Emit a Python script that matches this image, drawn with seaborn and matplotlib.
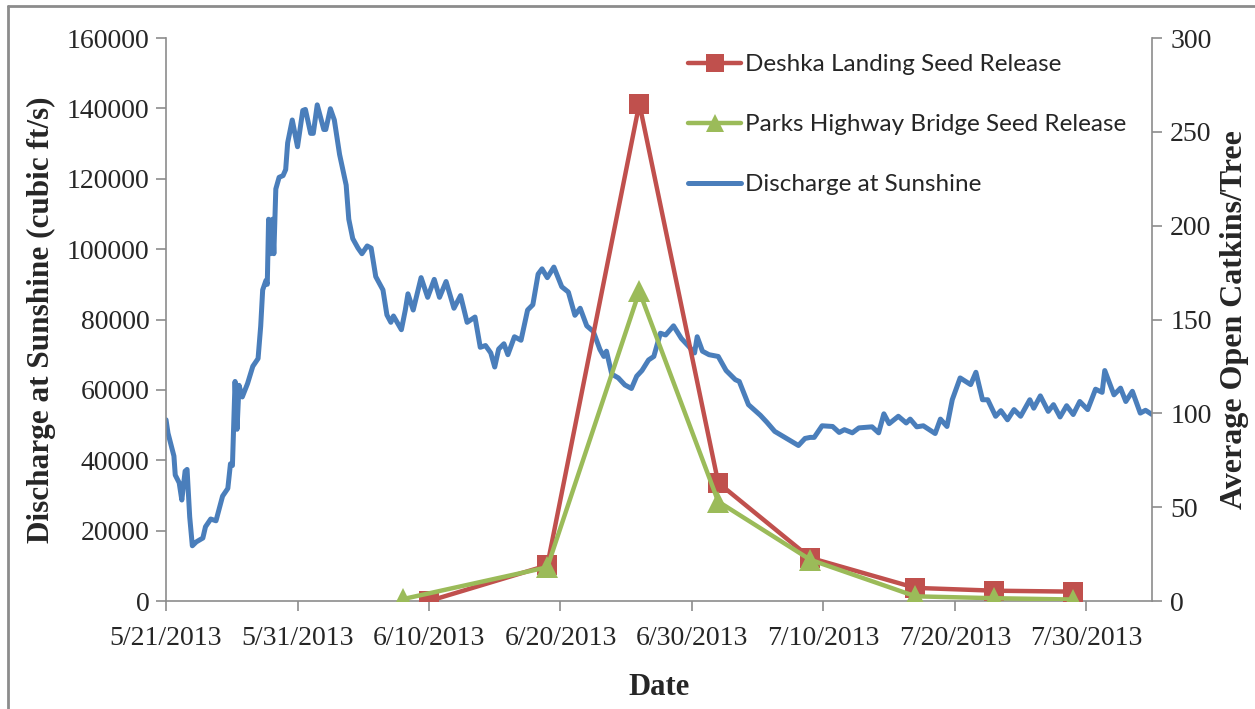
import pandas as pd
import seaborn as sns
import matplotlib.pyplot as plt
import matplotlib.dates as mdates
from matplotlib.lines import Line2D

# discharge at Sunshine (days after 5/21/2013, cubic ft/s)
discharge_day = [
    0.0, 0.15, 0.6, 0.7, 1.0, 1.2, 1.45, 1.6, 1.8, 2.0, 2.3, 2.8, 3.0, 3.4, 3.8,
    4.3, 4.7, 4.9, 5.05, 5.25, 5.4, 5.55, 5.8, 6.2, 6.6, 7.0, 7.2, 7.35, 7.6, 7.7,
    7.8, 7.95, 8.1, 8.2, 8.35, 8.6, 8.9, 9.1, 9.25, 9.6, 10.0, 10.4, 10.6, 11.0,
    11.2, 11.5, 12.0, 12.15, 12.5, 12.8, 13.2, 13.7, 13.9, 14.2, 14.6, 14.9, 15.3,
    15.6, 15.95, 16.5, 16.8, 17.1, 17.3, 17.5, 17.9, 18.2, 18.4, 18.8, 19.4, 19.9,
    20.4, 20.8, 21.3, 21.9, 22.4, 22.9, 23.5, 23.9, 24.3, 24.7, 25.0, 25.3, 25.7,
    26.0, 26.5, 27.0, 27.5, 27.9, 28.3, 28.6, 29.0, 29.5, 30.1, 30.6, 31.1, 31.5,
    32.0, 32.5, 33.0, 33.3, 33.5, 33.9, 34.4, 34.9, 35.4, 35.8, 36.2, 36.7, 37.1,
    37.6, 38.0, 38.6, 39.2, 39.7, 40.2, 40.4, 40.8, 41.3, 42.0, 42.6, 43.3, 43.6,
    44.3, 45.2, 45.7, 46.3, 47.2, 48.1, 48.6, 49.0, 49.3, 49.9, 50.7, 51.2, 51.6,
    52.2, 52.7, 53.7, 54.2, 54.6, 55.0, 55.7, 56.3, 56.6, 57.1, 57.6, 58.5, 58.9,
    59.4, 59.8, 60.4, 61.2, 61.6, 62.1, 62.5, 63.1, 63.5, 64.0, 64.5, 65.0, 65.7,
    66.0, 66.5, 67.1, 67.5, 68.0, 68.5, 69.0, 69.5, 70.1, 70.7, 71.2, 71.4, 72.1,
    72.6, 73.0, 73.5, 74.1, 74.5, 75.0,
]
discharge_cfs = [
    51500, 47700, 41200, 35800, 33600, 28700, 36900, 37400, 23900, 15700, 16800,
    17900, 21100, 23300, 22800, 29800, 32000, 39000, 38500, 62400, 48800, 61300,
    58000, 61800, 66700, 68900, 78100, 88400, 91100, 90000, 108500, 98700, 108500,
    98700, 117100, 120400, 120900, 122600, 130200, 136700, 129100, 139400, 139700,
    132900, 132900, 141000, 134000, 134000, 139900, 136700, 126900, 118200, 108500,
    103000, 100300, 98700, 100900, 100300, 92200, 88400, 81300, 79200, 81000,
    79700, 77100, 82700, 87300, 82700, 91900, 86300, 91400, 86300, 90800, 83200,
    86800, 79200, 80700, 72100, 72600, 70500, 66500, 71600, 73100, 70000, 75100,
    74100, 82700, 84200, 92900, 94400, 91900, 94900, 89300, 87800, 81200, 83200,
    78200, 76600, 71500, 69500, 71000, 64500, 63400, 61400, 60400, 63900, 65500,
    68500, 69500, 76100, 75600, 78200, 74600, 72600, 70500, 75100, 71000, 70000,
    69500, 65500, 62900, 62400, 55800, 52800, 50800, 48200, 46200, 44200, 46200,
    46500, 46500, 49800, 49600, 47900, 48700, 47800, 49200, 49500, 47800, 53200,
    50400, 52500, 50600, 51700, 49500, 49800, 47600, 51700, 49600, 57200, 63400,
    61500, 65000, 57200, 57200, 52500, 54100, 51500, 54400, 52500, 57200, 54800,
    58300, 53900, 55800, 52300, 55500, 53000, 56700, 54400, 60200, 59300, 65500,
    58600, 60500, 56700, 59600, 53400, 54200, 53000,
]

# seed release, average open catkins per tree
deshka_dates = ['2013-06-10', '2013-06-19', '2013-06-26', '2013-07-02',
                '2013-07-09', '2013-07-17', '2013-07-23', '2013-07-29']
deshka_catkins = [0, 19, 265, 63, 23, 7, 5.5, 5]
parks_dates = ['2013-06-08', '2013-06-19', '2013-06-26', '2013-07-02',
               '2013-07-09', '2013-07-17', '2013-07-23', '2013-07-29']
parks_catkins = [1, 18, 165, 53, 22, 2.5, 1.5, 0.8]

x_ticks = ['2013-05-21', '2013-05-31', '2013-06-10', '2013-06-20',
           '2013-06-30', '2013-07-10', '2013-07-20', '2013-07-30']

start = pd.Timestamp('2013-05-21')
flow = pd.DataFrame({
    'date': start + pd.to_timedelta(discharge_day, unit='D'),
    'cfs': discharge_cfs,
})
deshka = pd.DataFrame({'date': pd.to_datetime(deshka_dates), 'n': deshka_catkins})
parks = pd.DataFrame({'date': pd.to_datetime(parks_dates), 'n': parks_catkins})

sns.set_style('white')
plt.rcParams['font.family'] = ['Liberation Serif', 'DejaVu Serif']

blue = '#4a7ebb'
red = '#c0504d'
green = '#9bbb59'
grey = '#8c8c8c'

fig = plt.figure(figsize=(12.55, 7.09), dpi=100)
ax = fig.add_axes([0.1323, 0.1523, 0.918 - 0.1323, 0.9464 - 0.1523])
ax2 = ax.twinx()

sns.lineplot(data=flow, x='date', y='cfs', ax=ax, color=blue, linewidth=3.6)
sns.lineplot(data=deshka, x='date', y='n', ax=ax2, color=red, linewidth=3.2,
             marker='s', markersize=14, markeredgewidth=0)
sns.lineplot(data=parks, x='date', y='n', ax=ax2, color=green, linewidth=3.2,
             marker='^', markersize=16, markeredgewidth=0)

ax.set_xlim(start, pd.Timestamp('2013-08-04'))
ax.set_ylim(0, 160000)
ax2.set_ylim(0, 300)
ax.set_yticks(range(0, 160001, 20000))
ax2.set_yticks(range(0, 301, 50))
ax.set_xticks(pd.to_datetime(x_ticks))
ax.xaxis.set_major_formatter(mdates.DateFormatter('%-m/%-d/%Y'))

for a in (ax, ax2):
    a.spines['top'].set_visible(False)
    for s in ('left', 'right', 'bottom'):
        a.spines[s].set_color(grey)
        a.spines[s].set_linewidth(1.2)
    a.tick_params(length=7, width=1.2, color=grey, labelsize=20, direction='out')
ax.tick_params(axis='y', left=True, right=False, pad=5)
ax.tick_params(axis='x', bottom=True, pad=11)
ax2.tick_params(axis='y', right=True, left=False, pad=6)
ax.spines['right'].set_visible(False)
ax2.spines['left'].set_visible(False)
ax2.spines['bottom'].set_visible(False)

ax.set_xlabel('Date', fontsize=22, fontweight='bold', labelpad=16)
ax.set_ylabel('Discharge at Sunshine (cubic ft/s)', fontsize=22.5, fontweight='bold', labelpad=8)
ax2.set_ylabel('Average Open Catkins/Tree', fontsize=23, fontweight='bold', labelpad=6)

handles = [
    Line2D([], [], color=red, lw=3.2, marker='s', markersize=13, markeredgewidth=0),
    Line2D([], [], color=green, lw=3.2, marker='^', markersize=13, markeredgewidth=0),
    Line2D([], [], color=blue, lw=3.6),
]
labels = ['Deshka Landing Seed Release', 'Parks Highway Bridge Seed Release',
          'Discharge at Sunshine']
ax2.legend(handles, labels, loc='upper left', bbox_to_anchor=(0.507, 1.01),
           frameon=False, handlelength=2.2, handletextpad=0.15, labelspacing=1.6,
           prop={'family': 'Lato', 'size': 17.5})

# outer chart frame (top and left edges only)
fig.add_artist(Line2D([8 / 1255, 1], [1 - 6 / 709, 1 - 6 / 709],
                      transform=fig.transFigure, color=grey, lw=2))
fig.add_artist(Line2D([8 / 1255, 8 / 1255], [0, 1 - 6 / 709],
                      transform=fig.transFigure, color=grey, lw=2))

plt.savefig('out.png', dpi=100)
